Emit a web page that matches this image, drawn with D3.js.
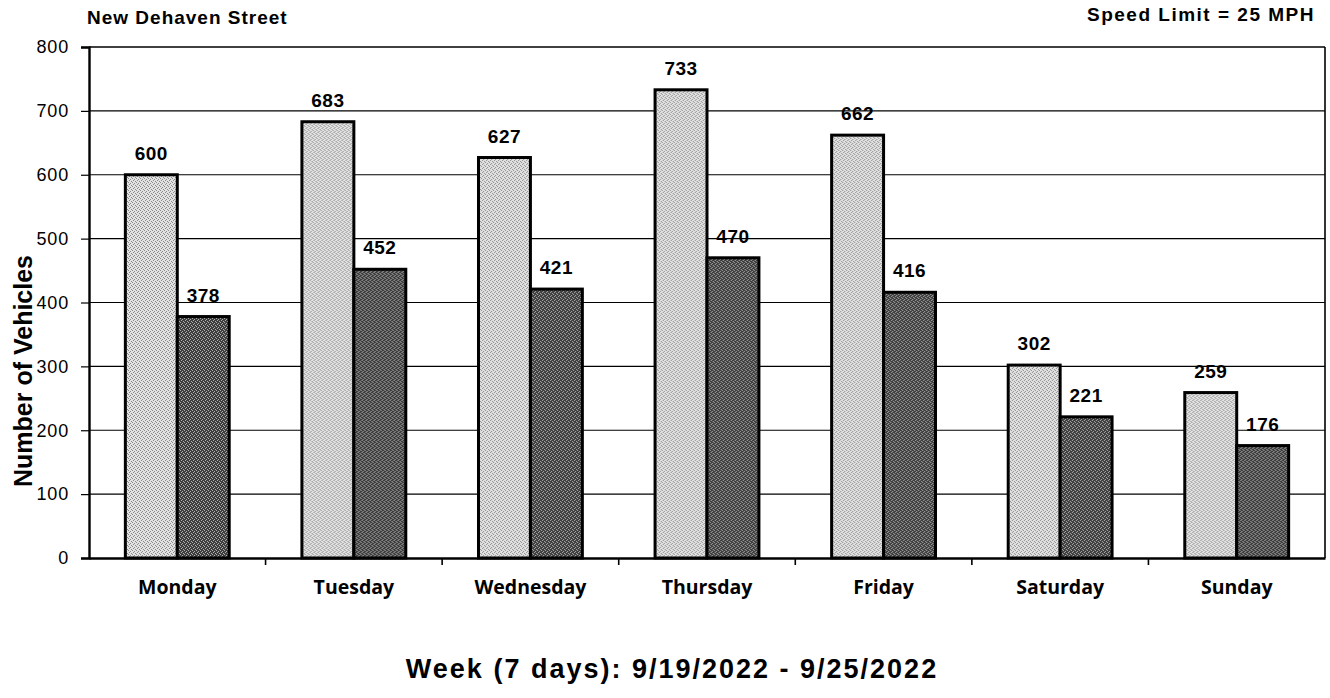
<!DOCTYPE html>
<html>
<head>
<meta charset="utf-8">
<script src="https://cdn.jsdelivr.net/npm/d3@7"></script>
<style>
  html, body { margin: 0; padding: 0; background: #fff; }
  svg { display: block; }
</style>
</head>
<body>
<svg id="chart" width="1330" height="698"></svg>
<script>
// Daily vehicle counts for the week
const days = ["Monday", "Tuesday", "Wednesday", "Thursday", "Friday", "Saturday", "Sunday"];
const seriesNames = ["light", "dark"];
const lightValues = [600, 683, 627, 733, 662, 302, 259];
const darkValues = [378, 452, 421, 470, 416, 221, 176];
const yTicks = [0, 100, 200, 300, 400, 500, 600, 700, 800];

const svg = d3.select("#chart");
const margin = { left: 89, right: 1325, top: 47, bottom: 558 };
const arial = "Liberation Sans, Arial, sans-serif";

const x = d3.scaleBand().domain(days).range([margin.left, margin.right]).paddingInner(0).paddingOuter(0);
const xInner = d3.scaleBand().domain(seriesNames).range([0, x.bandwidth()]).paddingOuter(0.7).paddingInner(0);
const y = d3.scaleLinear().domain([0, 800]).range([margin.bottom, margin.top]);

// stipple patterns for the two series
const defs = svg.append("defs");
function stipple(id, base, dot) {
  const p = defs.append("pattern").attr("id", id).attr("patternUnits", "userSpaceOnUse")
    .attr("width", 4).attr("height", 4);
  p.append("rect").attr("width", 4).attr("height", 4).attr("fill", base);
  [[0, 0], [2, 1], [1, 3], [3, 2]].forEach(([dx, dy]) => {
    p.append("rect").attr("x", dx).attr("y", dy).attr("width", 1).attr("height", 1).attr("fill", dot);
  });
}
stipple("pLight", "#e2e2e2", "#8a8a8a");
stipple("pDark", "#3e3e3e", "#b0b0b0");

// gridlines
svg.append("g").selectAll("line").data(yTicks.filter(d => d > 0)).join("line")
  .attr("x1", margin.left).attr("x2", margin.right)
  .attr("y1", d => y(d)).attr("y2", d => y(d))
  .attr("stroke", "#000").attr("stroke-width", d => d === 800 ? 1.6 : 1.2);

// right frame
svg.append("line").attr("x1", margin.right).attr("x2", margin.right)
  .attr("y1", y(800)).attr("y2", y(0)).attr("stroke", "#000").attr("stroke-width", 1.6);

// y axis
const yAxis = d3.axisLeft(y).tickValues(yTicks).tickSize(8).tickPadding(12).tickFormat(d3.format("d"));
const gy = svg.append("g").attr("transform", `translate(${margin.left},0)`).call(yAxis);
gy.select(".domain").attr("stroke", "#000").attr("stroke-width", 2.4);
gy.selectAll(".tick line").attr("stroke", "#000").attr("stroke-width", 1.2);
gy.selectAll(".tick text").attr("font-family", arial)
  .attr("font-size", 18).attr("letter-spacing", 0.8).attr("fill", "#000");

// bars
const groups = svg.append("g").selectAll("g").data(days).join("g")
  .attr("transform", d => `translate(${x(d)},0)`);

const barData = (d, i) => [
  { key: "light", value: lightValues[i] },
  { key: "dark", value: darkValues[i] }
];

groups.each(function (d, i) {
  const g = d3.select(this);
  const bars = barData(d, i);
  g.selectAll("rect").data(bars).join("rect")
    .attr("x", b => xInner(b.key))
    .attr("y", b => y(b.value))
    .attr("width", xInner.bandwidth())
    .attr("height", b => y(0) - y(b.value))
    .attr("fill", b => b.key === "light" ? "url(#pLight)" : "url(#pDark)")
    .attr("stroke", "#000").attr("stroke-width", 3);
  g.selectAll("text").data(bars).join("text")
    .attr("x", b => xInner(b.key) + xInner.bandwidth() / 2)
    .attr("y", b => y(b.value) - 15)
    .attr("text-anchor", "middle")
    .attr("font-family", arial)
    .attr("font-weight", "bold").attr("font-size", 19).attr("letter-spacing", 0.5).attr("fill", "#000")
    .text(b => b.value);
});

// x axis
const xAxis = d3.axisBottom(x).tickSize(0).tickPadding(20);
const gx = svg.append("g").attr("transform", `translate(0,${margin.bottom})`).call(xAxis);
gx.select(".domain").attr("stroke", "#000").attr("stroke-width", 2.4);
gx.selectAll(".tick text").attr("font-family", "Open Sans, sans-serif")
  .attr("font-weight", "bold").attr("font-size", 19.5).attr("fill", "#000")
  .attr("dy", "0.8em");

// category boundary ticks
svg.append("g").selectAll("line").data(days.slice(1)).join("line")
  .attr("x1", d => x(d)).attr("x2", d => x(d))
  .attr("y1", margin.bottom).attr("y2", margin.bottom + 7)
  .attr("stroke", "#000").attr("stroke-width", 1.6);

// titles
svg.append("text").attr("x", 87).attr("y", 24)
  .attr("font-family", arial).attr("font-weight", "bold")
  .attr("font-size", 19).attr("letter-spacing", 1).text("New Dehaven Street");
svg.append("text").attr("x", 1315).attr("y", 21).attr("text-anchor", "end")
  .attr("font-family", arial).attr("font-weight", "bold")
  .attr("font-size", 19).attr("letter-spacing", 1.5).text("Speed Limit = 25 MPH");
svg.append("text").attr("transform", "translate(32,371) rotate(-90)").attr("text-anchor", "middle")
  .attr("font-family", arial).attr("font-weight", "bold")
  .attr("font-size", 25).text("Number of Vehicles");
svg.append("text").attr("x", 672).attr("y", 678).attr("text-anchor", "middle")
  .attr("font-family", arial).attr("font-weight", "bold")
  .attr("font-size", 27).attr("letter-spacing", 2).text("Week (7 days): 9/19/2022 - 9/25/2022");
</script>
</body>
</html>
